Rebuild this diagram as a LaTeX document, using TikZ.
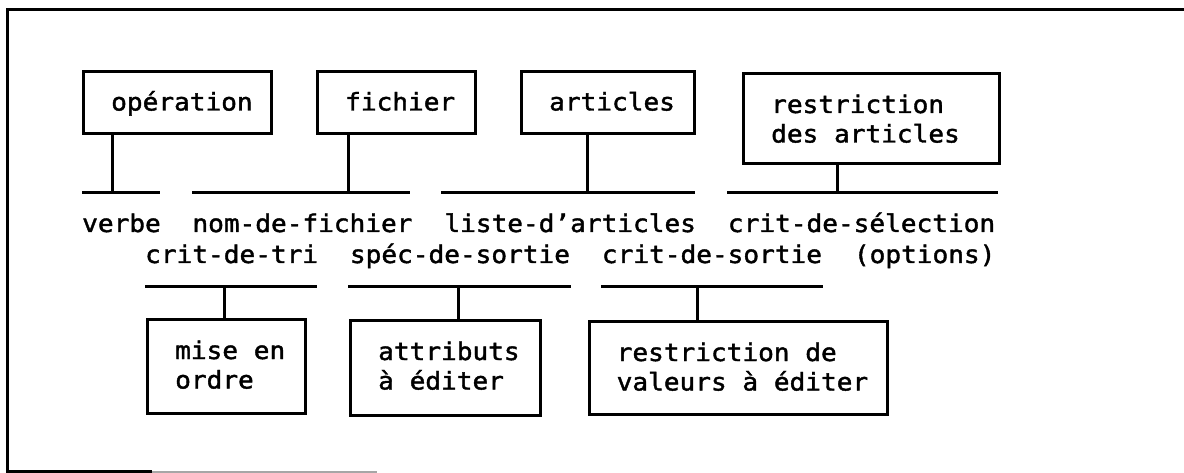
\documentclass[tikz,border=0pt]{standalone}
\usepackage{fontspec}
\newfontfamily\mono[FakeStretch=1.07,FakeBold=1.6]{DejaVu Sans Mono}
\begin{document}
\begin{tikzpicture}[x=1pt,y=-1pt,
  boxstyle/.style={draw, line width=3pt, rectangle, inner sep=0pt, anchor=north west},
  lbl/.style={font=\mono\fontsize{24.4}{29.5}\selectfont, inner sep=0pt, anchor=base west, align=left},
  bar/.style={line width=3pt},
  framestyle/.style={line width=3pt}]
\useasboundingbox (0,0) rectangle (1184,473);
\fill[white] (0,0) rectangle (1184,473);
% frame
\draw[framestyle] (1184,9.5) -- (7,9.5) -- (7,471.5) -- (152,471.5);
\draw[line width=2pt, black!35] (152,471.5) -- (377,471.5);

% top boxes
\node[boxstyle, minimum width=188pt, minimum height=62pt] (op) at (82,70) {};
\node[lbl] (opT) at ([xshift=29pt,yshift=-40.5pt]op.north west) {opération};
\node[boxstyle, minimum width=157.5pt, minimum height=62pt] (fi) at (316,70) {};
\node[lbl] (fiT) at ([xshift=29pt,yshift=-40.5pt]fi.north west) {fichier};
\node[boxstyle, minimum width=172.5pt, minimum height=62pt] (ar) at (520,70) {};
\node[lbl] (arT) at ([xshift=29pt,yshift=-40.5pt]ar.north west) {articles};
\node[boxstyle, minimum width=256pt, minimum height=90pt] (re) at (742,72) {};
\node[lbl] (reT) at ([xshift=29pt,yshift=-70.5pt]re.north west) {restriction\\des articles};

% top bars
\coordinate (b1l) at (82,193);  \coordinate (b1r) at (160,193);  \coordinate (s1) at (112.7,193);
\coordinate (b2l) at (192,193); \coordinate (b2r) at (410,193);  \coordinate (s2) at (348,193);
\coordinate (b3l) at (441,193); \coordinate (b3r) at (695,193);  \coordinate (s3) at (587,193);
\coordinate (b4l) at (727,193); \coordinate (b4r) at (998,193);  \coordinate (s4) at (837,193);
\draw[bar] (b1l) -- (b1r); \draw[bar] (b2l) -- (b2r);
\draw[bar] (b3l) -- (b3r); \draw[bar] (b4l) -- (b4r);
\draw[bar] (s1 |- op.south) -- (s1);
\draw[bar] (s2 |- fi.south) -- (s2);
\draw[bar] (s3 |- ar.south) -- (s3);
\draw[bar] (s4 |- re.south) -- (s4);

% row labels
\node[lbl] (l1) at (82,232) {verbe};
\node[lbl] (l2) at (192.25,232) {nom-de-fichier};
\node[lbl] (l3) at (444.25,232) {liste-d’articles};
\node[lbl] (l4) at (727.75,232) {crit-de-sélection};
\node[lbl] (m1) at (145,263) {crit-de-tri};
\node[lbl] (m2) at (349.75,263) {spéc-de-sortie};
\node[lbl] (m3) at (601.75,263) {crit-de-sortie};
\node[lbl] (m4) at (853.75,263) {(options)};

% bottom bars
\coordinate (c1l) at (145,287); \coordinate (c1r) at (317,287); \coordinate (t1) at (224,287);
\coordinate (c2l) at (348,287); \coordinate (c2r) at (571,287); \coordinate (t2) at (458,287);
\coordinate (c3l) at (601,287); \coordinate (c3r) at (823,287); \coordinate (t3) at (697,287);
\draw[bar] (c1l) -- (c1r); \draw[bar] (c2l) -- (c2r); \draw[bar] (c3l) -- (c3r);

% bottom boxes
\node[boxstyle, minimum width=158pt, minimum height=94pt] (mo) at (146,318) {};
\node[lbl] (moT) at ([xshift=29pt,yshift=-70.5pt]mo.north west) {mise en\\ordre};
\node[boxstyle, minimum width=190pt, minimum height=95pt] (at) at (349,319) {};
\node[lbl] (atT) at ([xshift=29pt,yshift=-70.5pt]at.north west) {attributs\\à éditer};
\node[boxstyle, minimum width=298.5pt, minimum height=93pt] (rv) at (587.5,320) {};
\node[lbl] (rvT) at ([xshift=29pt,yshift=-70.5pt]rv.north west) {restriction de\\valeurs à éditer};

\draw[bar] (t1) -- (t1 |- mo.north);
\draw[bar] (t2) -- (t2 |- at.north);
\draw[bar] (t3) -- (t3 |- rv.north);
\end{tikzpicture}
\end{document}
